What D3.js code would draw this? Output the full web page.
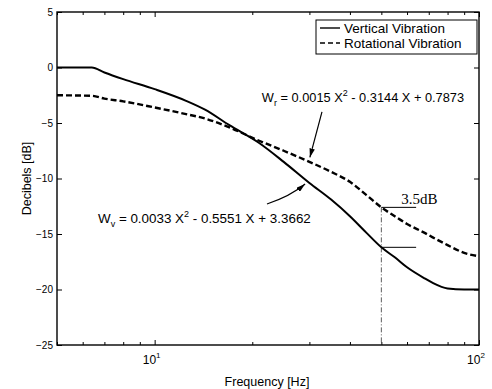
<!DOCTYPE html>
<html>
<head>
<meta charset="utf-8">
<script src="https://cdn.jsdelivr.net/npm/d3@7"></script>
<style>
body { margin: 0; background: #fff; }
svg { display: block; font-family: "Liberation Sans", Arial, sans-serif; }
</style>
</head>
<body>
<div id="chart"></div>
<script>
// values (Hz / dB)
const freq       = [5, 6.4, 7, 8, 10, 12.5, 14.3, 17, 21, 25, 30, 35, 40, 45, 50, 55, 60, 68, 72, 80, 90, 100];
const vertical   = [0, 0, -0.45, -1.05, -1.95, -3.0, -3.8, -5.2, -6.8, -8.5, -10.4, -11.9, -13.4, -14.9, -16.2, -17.1, -18.0, -19.0, -19.4, -19.9, -20.0, -20.0];
const rotational = [-2.5, -2.55, -2.8, -3.05, -3.6, -4.2, -4.6, -5.4, -6.6, -7.5, -8.5, -9.4, -10.3, -11.5, -12.6, -13.4, -14.1, -14.9, -15.3, -16.0, -16.7, -17.0];
const seriesNames = ["Vertical Vibration", "Rotational Vibration"];
const yTicks = [5, 0, -5, -10, -15, -20, -25];
const xMajor = [10, 100];
const xMajorLabels = [["10", "1"], ["10", "2"]];
const xMinor = [5, 6, 7, 8, 9, 20, 30, 40, 50, 60, 70, 80, 90];
const markFreq = 50, markEnd = 64, markLabel = "3.5dB";
const eqRot  = [["W", ""], ["r", "sub"], [" = 0.0015 X", ""], ["2", "sup"], [" - 0.3144 X + 0.7873", ""]];
const eqVert = [["W", ""], ["v", "sub"], [" = 0.0033 X", ""], ["2", "sup"], [" - 0.5551 X + 3.3662", ""]];

const width = 492;
const height = 389;
const margin = {top: 12, right: 13, bottom: 44, left: 57};

const svg = d3.select("#chart").append("svg")
  .attr("width", width).attr("height", height)
  .attr("viewBox", [0, 0, width, height]);

const x = d3.scaleLog().domain([5, 100]).range([margin.left, width - margin.right]);
const y = d3.scaleLinear().domain([-25, 5]).range([height - margin.bottom, margin.top]);

const font = "'Liberation Sans', Arial, sans-serif";

// y axes, ticks inward
svg.append("g")
  .attr("transform", `translate(${margin.left},0)`)
  .attr("font-family", font).attr("font-size", 12)
  .call(d3.axisLeft(y).tickValues(yTicks).tickSize(-5).tickSizeOuter(0).tickPadding(4))
  .call(g => g.select(".domain").remove());
svg.append("g")
  .attr("transform", `translate(${width - margin.right},0)`)
  .call(d3.axisRight(y).tickValues(yTicks).tickSize(-5).tickSizeOuter(0).tickFormat(""))
  .call(g => g.select(".domain").remove());

// x axes (log), minor + major ticks on bottom and top
for (const [axis, pos] of [[d3.axisBottom, height - margin.bottom], [d3.axisTop, margin.top]]) {
  svg.append("g").attr("transform", `translate(0,${pos})`)
    .call(axis(x).tickValues(xMinor).tickSize(-3).tickSizeOuter(0).tickFormat(""))
    .call(g => g.select(".domain").remove());
  svg.append("g").attr("transform", `translate(0,${pos})`)
    .call(axis(x).tickValues(xMajor).tickSize(-5).tickSizeOuter(0).tickFormat(""))
    .call(g => g.select(".domain").remove());
}

// x tick labels 10^n
svg.append("g").selectAll("text")
  .data(xMajor)
  .join("text")
  .attr("x", d => x(d) - 3)
  .attr("y", height - margin.bottom + 19)
  .attr("text-anchor", "middle")
  .attr("font-size", 12)
  .each(function(d, i) {
    const t = d3.select(this);
    t.append("tspan").text(xMajorLabels[i][0]);
    t.append("tspan").attr("dy", -6).attr("font-size", 8).text(xMajorLabels[i][1]);
  });

// frame
svg.append("rect")
  .attr("x", margin.left).attr("y", margin.top)
  .attr("width", width - margin.left - margin.right)
  .attr("height", height - margin.top - margin.bottom)
  .attr("fill", "none").attr("stroke", "#000").attr("stroke-width", 1.4);

// marker for 3.5 dB gap at 50 Hz
const iMark = freq.indexOf(markFreq);
svg.append("line")
  .attr("x1", x(markFreq)).attr("x2", x(markFreq))
  .attr("y1", y(rotational[iMark])).attr("y2", y(-25))
  .attr("stroke", "#333").attr("stroke-width", 0.8)
  .attr("stroke-dasharray", "5,2,1,2");
svg.append("g").selectAll("line")
  .data([rotational[iMark], vertical[iMark]])
  .join("line")
  .attr("x1", x(markFreq)).attr("x2", x(markEnd))
  .attr("y1", d => y(d)).attr("y2", d => y(d))
  .attr("stroke", "#000").attr("stroke-width", 1);
svg.append("text")
  .attr("x", x(markFreq) + 20).attr("y", y(rotational[iMark]) - 3)
  .attr("font-family", "'Liberation Serif', 'Times New Roman', serif")
  .attr("font-size", 15)
  .text(markLabel);

// curves
const line = (vals) => d3.line()
  .x((d, i) => x(freq[i]))
  .y(d => y(d))
  .curve(d3.curveMonotoneX)(vals);

svg.append("path")
  .attr("d", line(vertical))
  .attr("fill", "none").attr("stroke", "#000").attr("stroke-width", 2);
svg.append("path")
  .attr("d", line(rotational))
  .attr("fill", "none").attr("stroke", "#000").attr("stroke-width", 2.4)
  .attr("stroke-dasharray", "6,3");

// arrows
svg.append("defs").append("marker")
  .attr("id", "arrow").attr("viewBox", "0 0 10 6")
  .attr("refX", 10).attr("refY", 3)
  .attr("markerWidth", 9).attr("markerHeight", 5.5)
  .attr("markerUnits", "userSpaceOnUse")
  .attr("orient", "auto")
  .append("path").attr("d", "M0,0L10,3L0,6Z").attr("fill", "#000");

svg.append("line")
  .attr("x1", x(32.8)).attr("y1", y(-4.0))
  .attr("x2", x(30.1)).attr("y2", y(-8.1))
  .attr("stroke", "#000").attr("stroke-width", 1.2)
  .attr("marker-end", "url(#arrow)");
svg.append("path")
  .attr("d", `M${x(22.2)},${y(-12.3)}Q${x(26.2)},${y(-11.6)} ${x(29.1)},${y(-10.5)}`)
  .attr("fill", "none").attr("stroke", "#000").attr("stroke-width", 1.2)
  .attr("marker-end", "url(#arrow)");

// equations
function equation(parts, fx, fy, size) {
  const t = svg.append("text")
    .attr("x", x(fx)).attr("y", y(fy))
    .attr("font-size", size);
  let shift = 0;
  for (const [s, kind] of parts) {
    const target = kind === "sub" ? 4 : kind === "sup" ? -6 : 0;
    t.append("tspan")
      .attr("dy", target - shift)
      .attr("font-size", kind ? 9 : null)
      .text(s);
    shift = target;
  }
}
equation(eqRot, 21.4, -3.1, 12.8);
equation(eqVert, 6.69, -14.0, 13.4);

// legend
const legend = svg.append("g").attr("transform", "translate(316,20)");
legend.append("rect")
  .attr("width", 161).attr("height", 34)
  .attr("fill", "#fff").attr("stroke", "#000").attr("stroke-width", 1);
legend.selectAll("line")
  .data(seriesNames)
  .join("line")
  .attr("x1", 4).attr("x2", 24)
  .attr("y1", (d, i) => 8 + i * 15).attr("y2", (d, i) => 8 + i * 15)
  .attr("stroke", "#000").attr("stroke-width", 1.4)
  .attr("stroke-dasharray", (d, i) => i ? "5,3" : null);
legend.selectAll("text")
  .data(seriesNames)
  .join("text")
  .attr("x", 28)
  .attr("y", (d, i) => 12.5 + i * 15)
  .attr("font-size", 13.5)
  .text(d => d);

// axis titles
svg.append("text")
  .attr("x", (margin.left + width - margin.right) / 2 - 1)
  .attr("y", 386)
  .attr("text-anchor", "middle")
  .attr("font-size", 12.5)
  .text("Frequency [Hz]");
svg.append("text")
  .attr("transform", `translate(31,${(margin.top + height - margin.bottom) / 2}) rotate(-90)`)
  .attr("text-anchor", "middle")
  .attr("font-size", 12.5)
  .text("Decibels [dB]");
</script>
</body>
</html>
